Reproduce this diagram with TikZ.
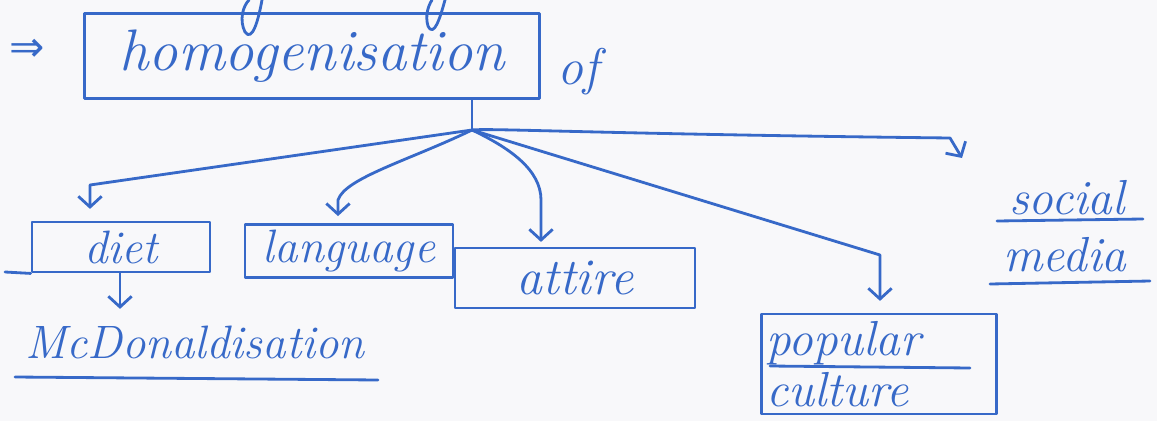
\documentclass[tikz,border=0pt]{standalone}
\usepackage{fontspec}
\newfontfamily\arrowfont{DejaVu Sans}
\usetikzlibrary{arrows.meta,calc}
\definecolor{ink}{RGB}{55,105,200}
\definecolor{paper}{RGB}{248,248,250}
\tikzset{
  pen/.style={draw=ink, line width=2.4pt, line cap=round, line join=round},
  box/.style={pen, minimum width=#1, inner sep=0pt},
  label/.style={text=ink, font=\itshape\fontsize{40}{44}\selectfont, inner sep=0pt},
  arr/.style={pen, -{Straight Barb[length=3.2mm,width=7mm]}},
}
\begin{document}
\begin{tikzpicture}[x=0.03cm,y=-0.03cm]
  \fill[paper] (0,0) rectangle (1157,421);
  \useasboundingbox (0,0) rectangle (1157,421);

  % loops hanging down from the line above
  \draw[pen] (262,0) .. controls (258,22) and (252,42) .. (245,32) .. controls (239,20) and (243,6) .. (249,0);
  \draw[pen] (445,0) .. controls (440,18) and (434,38) .. (428,26) .. controls (425,16) and (428,6) .. (432,0);

  % heading
  \node[text=ink, inner sep=0pt, font=\arrowfont\fontsize{36}{40}\selectfont] (implies) at (27,50) {⇒};
  \node[box=13.65cm, minimum height=2.55cm, label, font=\itshape\fontsize{50}{54}\selectfont] (homog) at (312,56) {homogenisation};
  \node[label, font=\itshape\fontsize{44}{48}\selectfont] (of) at (578,72) {of};

  % branch targets
  \node[box=5.34cm, minimum height=1.5cm, label] (diet) at (121,247) {diet};
  \node[box=6.24cm, minimum height=1.59cm, label] (lang) at (349,251) {language};
  \node[box=7.2cm, minimum height=1.8cm, label, font=\itshape\fontsize{44}{48}\selectfont] (attire) at (575,278) {attire};
  \node[box=7.05cm, minimum height=3.0cm, label, text width=6.75cm, align=left,
        font=\itshape\fontsize{42}{44}\selectfont] (popular) at (879,364) {popular\\culture};
  \node[label, font=\itshape\fontsize{42}{46}\selectfont] (social) at (1067,198) {social};
  \node[label, font=\itshape\fontsize{42}{46}\selectfont] (media) at (1065,255) {media};
  \node[label] (mcd) at (195,342) {McDonaldisation};

  % underlines
  \draw[pen] (5,272) -- (diet.south west);
  \draw[pen] (770,366) -- (970,368);
  \draw[pen] (997,221) -- (1143,219);
  \draw[pen] (990,284) -- (1150,281);
  \draw[pen] (15,377) -- (378,380);

  % connectors
  \coordinate (hub) at (472,130);
  \coordinate (dietbend) at (90,185);
  \coordinate (langbend) at (338,200);
  \coordinate (attirebend) at (541,200);
  \coordinate (popbend) at (880,255);
  \coordinate (socialend) at (962,158);

  \draw[pen] (homog.south -| hub) -- (hub);
  \draw[arr, shorten >=10pt] (hub) -- (dietbend) -- (dietbend |- diet.north);
  \draw[arr, shorten >=6pt] (hub) .. controls (410,160) and (345,178) .. (langbend) -- (langbend |- lang.north);
  \draw[arr, shorten >=4pt] (hub) .. controls (510,148) and (541,170) .. (attirebend) -- (attirebend |- attire.north);
  \draw[arr, shorten >=10pt] (hub) -- (popbend) -- (popbend |- popular.north);
  \draw[arr] (hub) .. controls (490,128) and (600,134) .. (950,138) -- (socialend);
  \draw[arr, shorten >=14pt] (diet.south -| 120,0) -- (mcd.north -| 120,0);
\end{tikzpicture}
\end{document}
